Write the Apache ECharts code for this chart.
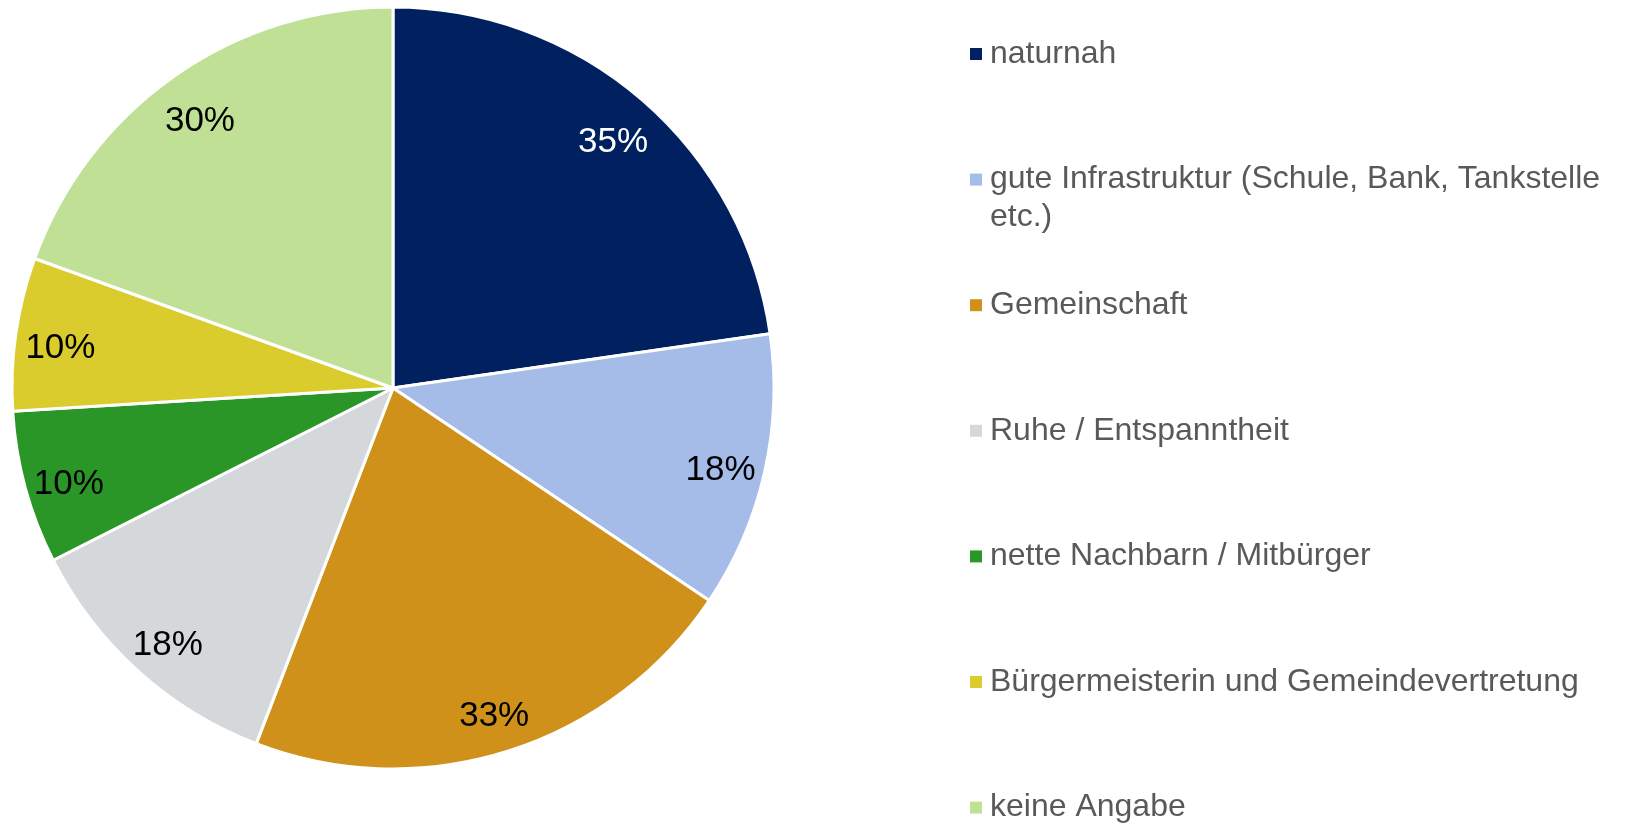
<!DOCTYPE html>
<html>
<head>
<meta charset="utf-8">
<script src="https://cdn.jsdelivr.net/npm/echarts@6/dist/echarts.min.js"></script>
<style>
  html, body { margin: 0; padding: 0; background: #fff; }
  #chart { width: 1625px; height: 825px; }
</style>
</head>
<body>
<div id="chart"></div>
<script>
// answers (percent of respondents, multiple answers possible)
const categories = [
  'naturnah',
  'gute Infrastruktur (Schule, Bank, Tankstelle etc.)',
  'Gemeinschaft',
  'Ruhe / Entspanntheit',
  'nette Nachbarn / Mitbürger',
  'Bürgermeisterin und Gemeindevertretung',
  'keine Angabe'
];
const values = [35, 18, 33, 18, 10, 10, 30];
const colors = ['#002060', '#A5BCE9', '#D0911A', '#D5D8DB', '#2A9628', '#DBCC2E', '#C0E195'];

const FONT = '"Liberation Sans", Arial, sans-serif';
const CX = 393, CY = 388, R = 381;

const chart = echarts.init(document.getElementById('chart'), null, { renderer: 'canvas' });

// one legend per entry so the wrapped item keeps the even spacing
const LINE = 38;
const legends = categories.map((name, i) => {
  const center = 54 + i * 125.6;
  const wrapped = name.indexOf('Tankstelle etc.') >= 0;
  return {
    orient: 'vertical',
    left: 970,
    top: wrapped ? center - LINE * 1.5 : center - LINE / 2,
    padding: 0,
    icon: 'rect',
    itemWidth: 12,
    itemHeight: 12,
    selectedMode: false,
    data: [name],
    itemStyle: { borderWidth: 0 },
    formatter: (n) => n.indexOf('Tankstelle etc.') >= 0
      ? '\ngute Infrastruktur (Schule, Bank, Tankstelle\netc.)'
      : n,
    textStyle: {
      fontFamily: FONT,
      fontSize: 32,
      lineHeight: LINE,
      color: '#595959',
      padding: [0, 0, 0, 3]
    }
  };
});

chart.setOption({
  animation: false,
  backgroundColor: '#ffffff',
  color: colors,
  legend: legends,
  series: [
    {
      type: 'pie',
      center: [CX, CY],
      radius: [0, R],
      startAngle: 90,
      clockwise: true,
      label: { show: false },
      labelLine: { show: false },
      itemStyle: { borderColor: '#ffffff', borderWidth: 3 },
      emphasis: { disabled: true },
      data: categories.map((name, i) => ({ name: name, value: values[i] }))
    },
    {
      // label ring, placed near the rim like the original
      type: 'pie',
      center: [CX, CY],
      radius: [285, R],
      startAngle: 90,
      clockwise: true,
      silent: true,
      itemStyle: { color: 'transparent', borderWidth: 0 },
      label: {
        show: true,
        position: 'inside',
        formatter: '{c}%',
        fontFamily: FONT,
        fontSize: 35,
        color: '#000',
        offset: [0, 8]
      },
      labelLine: { show: false },
      emphasis: { disabled: true },
      data: categories.map((name, i) => ({
        name: name,
        value: values[i],
        label: i === 0 ? { color: '#ffffff' } : undefined
      }))
    }
  ]
});
</script>
</body>
</html>
